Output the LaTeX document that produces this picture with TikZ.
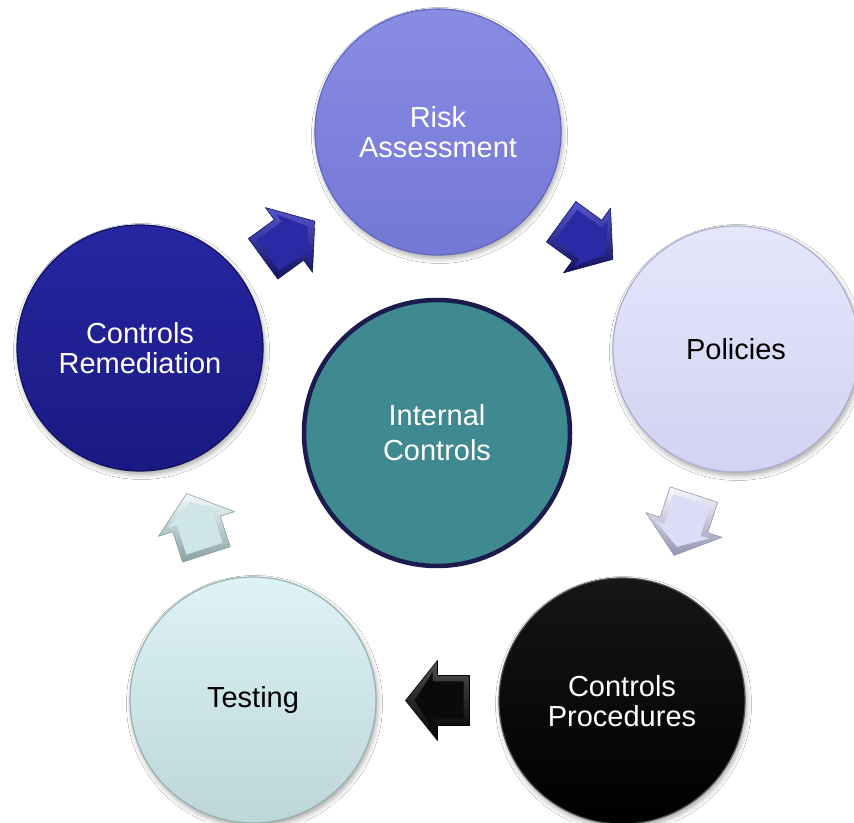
\documentclass[tikz,border=0pt]{standalone}
\usepackage{fontspec}
\setmainfont{Liberation Sans}
\usetikzlibrary{calc,shadows.blur}

% palette
\definecolor{riskTop}{HTML}{888CE3}
\definecolor{riskBot}{HTML}{7478D6}
\definecolor{riskRim}{HTML}{6266BE}
\definecolor{polTop}{HTML}{E6E6FB}
\definecolor{polBot}{HTML}{D2D2F2}
\definecolor{polRim}{HTML}{ADADCF}
\definecolor{procTop}{HTML}{161616}
\definecolor{procBot}{HTML}{000000}
\definecolor{procRim}{HTML}{505050}
\definecolor{testTop}{HTML}{DDF3F5}
\definecolor{testBot}{HTML}{BDD6D8}
\definecolor{testRim}{HTML}{98B0B2}
\definecolor{remTop}{HTML}{2626A2}
\definecolor{remBot}{HTML}{1A1A82}
\definecolor{remRim}{HTML}{10105A}
\definecolor{icFill}{HTML}{3E8A90}
\definecolor{icRim}{HTML}{1B1B4E}
\definecolor{blueMain}{HTML}{2A2AA6}
\definecolor{blueLight}{HTML}{5656D0}
\definecolor{blueDark}{HTML}{12125E}
\definecolor{lavMain}{HTML}{DCDCF6}
\definecolor{lavLight}{HTML}{FAFAFF}
\definecolor{lavDark}{HTML}{9494B2}
\definecolor{blkMain}{HTML}{0A0A0A}
\definecolor{blkLight}{HTML}{505050}
\definecolor{blkDark}{HTML}{000000}
\definecolor{cyaMain}{HTML}{CFE6E8}
\definecolor{cyaLight}{HTML}{F4FCFC}
\definecolor{cyaDark}{HTML}{86A0A2}

\tikzset{
  stage/.style={circle, minimum size=246pt, inner sep=0pt, align=center,
    font=\fontsize{29}{30}\selectfont, line width=1.2pt,
    blur shadow={shadow xshift=1.5pt, shadow yshift=-3.5pt,
      shadow blur radius=5pt, shadow opacity=35}},
  hub/.style={circle, minimum size=266pt, inner sep=0pt, align=center,
    font=\fontsize{29}{35}\selectfont, text=white,
    fill=icFill, draw=icRim, line width=4.5pt},
  arrowedge/.style={line width=0.6pt, line join=round},
}

% Block arrow: the corners are laid out along direction #2 from centre #1,
% so the bevel shading stays lit from above whatever the direction.
% #1 centre, #2 angle, #3 face colour, #4 lit bevel, #5 shaded bevel
\newcommand\blockarrow[5]{%
  \foreach \cn/\px/\py in {o1/-32/-25, o2/0/-25, o3/0/-40, o4/32/0,
      o5/0/40, o6/0/25, o7/-32/25,
      i1/-26/-19, i2/5/-19, i3/5/-28, i4/23/0, i5/5/28, i6/5/19, i7/-26/19}
    {\coordinate (\cn) at ($(#1)+(#2:\px)+(#2+90:\py)$);}
  \shade[top color=#4, bottom color=#5]
    (o1) -- (o2) -- (o3) -- (o4) -- (o5) -- (o6) -- (o7) -- cycle;
  \fill[#3] (i1) -- (i2) -- (i3) -- (i4) -- (i5) -- (i6) -- (i7) -- cycle;
  \draw[#5, arrowedge]
    (o1) -- (o2) -- (o3) -- (o4) -- (o5) -- (o6) -- (o7) -- cycle;}

\begin{document}
\begin{tikzpicture}[x=1pt, y=1pt]
  \useasboundingbox (0,0) rectangle (854,822);
  \fill[white] (0,0) rectangle (854,822);

  % cycle stages
  \node[stage, top color=riskTop, bottom color=riskBot, draw=riskRim, text=white]
    (risk) at (438,690) {Risk\\Assessment};
  \node[stage, top color=polTop, bottom color=polBot, draw=polRim, text=black]
    (pol) at (736,473) {Policies};
  \node[stage, top color=procTop, bottom color=procBot, draw=procRim, text=white]
    (proc) at (622,121) {Controls\\Procedures};
  \node[stage, top color=testTop, bottom color=testBot, draw=testRim, text=black]
    (test) at (253,122) {Testing};
  \node[stage, top color=remTop, bottom color=remBot, draw=remRim, text=white]
    (rem) at (140,474) {Controls\\Remediation};

  % centre
  \node[hub] (ic) at (437,389) {Internal\\Controls};

  % arrow anchors halfway between neighbouring stages
  \coordinate (a1) at ($(rem)!0.5!(risk)$);
  \coordinate (a2) at ($(risk)!0.5!(pol)$);
  \coordinate (a3) at ($(pol)!0.5!(proc)+(5,0)$);
  \coordinate (a4) at ($(proc)!0.5!(test)$);
  \coordinate (a5) at ($(test)!0.5!(rem)$);

  \blockarrow{a1}{36}{blueMain}{blueLight}{blueDark}
  \blockarrow{a2}{-36}{blueMain}{blueLight}{blueDark}
  \blockarrow{a3}{-108}{lavMain}{lavLight}{lavDark}
  \blockarrow{a4}{180}{blkMain}{blkLight}{blkDark}
  \blockarrow{a5}{108}{cyaMain}{cyaLight}{cyaDark}
\end{tikzpicture}
\end{document}
